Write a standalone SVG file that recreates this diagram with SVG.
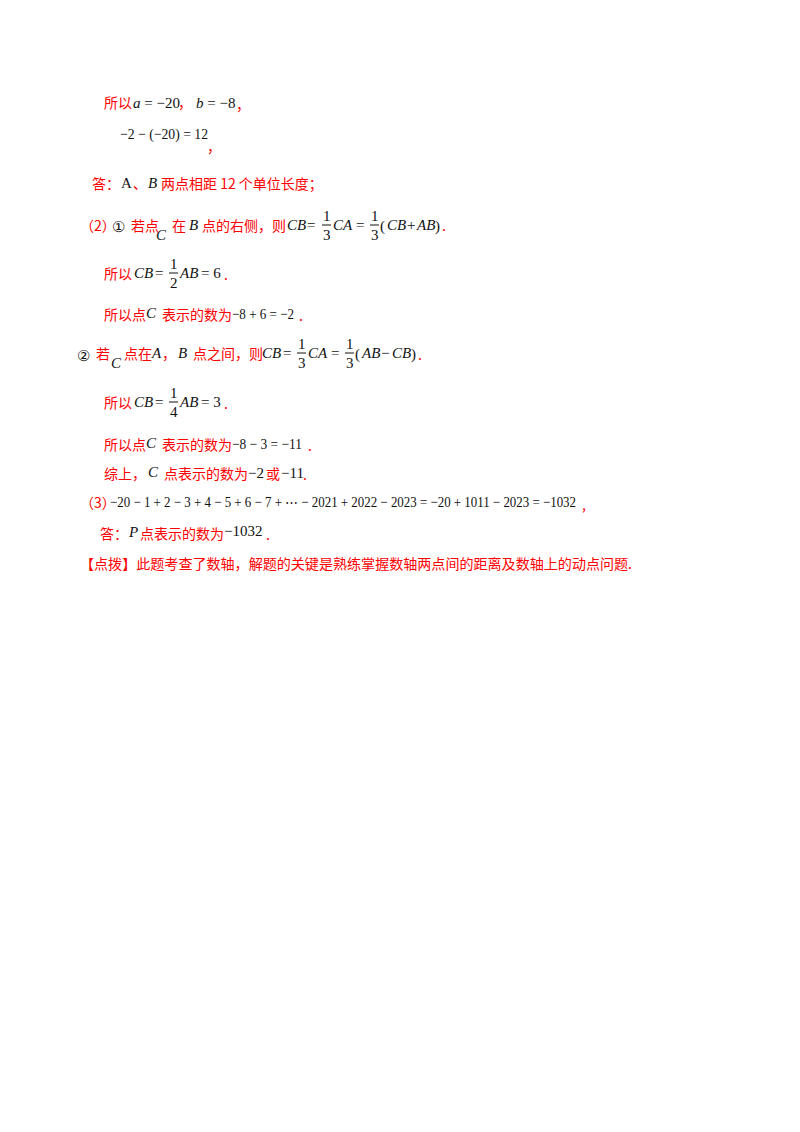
<svg xmlns="http://www.w3.org/2000/svg" width="800" height="1132" viewBox="0 0 800 1132">
<style>
.r{fill:#f00;font-family:"Noto Sans CJK SC","Noto Sans",sans-serif;font-size:14px}
.m{fill:#111;font-family:"Liberation Serif",serif;font-size:15px}
.i{font-style:italic}
</style>
<rect width="800" height="1132" fill="#fff"/>
<g id="l1"><text class="r" x="104" y="108">所以</text><text class="m" x="133" y="108"><tspan class="i">a</tspan> = −20</text><text class="r" x="178" y="108">，</text><text class="m" x="196" y="108"><tspan class="i">b</tspan> = −8</text><text class="r" x="236" y="110">，</text></g>
<g id="l2"><text class="m" x="120" y="139" textLength="88" lengthAdjust="spacingAndGlyphs">−2 − (−20) = 12</text><text class="r" x="207" y="152">，</text></g>
<g id="l3"><text class="r" x="92" y="189">答：</text><text class="m" x="121" y="188" font-size="12">A</text><text class="r" x="133" y="189">、</text><text class="m i" x="148" y="188" font-size="12">B</text><text class="r" x="161" y="189">两点相距 12 个单位长度；</text></g>
<g id="l4"><text class="r" x="80" y="231">（2）</text><text class="m" x="112" y="232" font-size="14">①</text><text class="r" x="131" y="231">若点</text><text class="m i" x="156" y="240" font-size="16">C</text><text class="r" x="172" y="231">在</text><text class="m i" x="189" y="230">B</text><text class="r" x="202" y="231">点的右侧，则</text>
<text class="m i" x="287" y="230">CB</text><text class="m" x="307" y="230">=</text><text class="m" x="323" y="221" font-size="13">1</text><line x1="322" y1="225" x2="331" y2="225" stroke="#111"/><text class="m" x="323" y="240" font-size="13">3</text><text class="m i" x="333" y="230">CA</text><text class="m" x="356" y="230">=</text><text class="m" x="371" y="221" font-size="13">1</text><line x1="370" y1="225" x2="379" y2="225" stroke="#111"/><text class="m" x="371" y="240" font-size="13">3</text><text class="m" x="380" y="231" font-size="18">(</text><text class="m i" x="387" y="230">CB</text><text class="m" x="407" y="230">+</text><text class="m i" x="417" y="230">AB</text><text class="m" x="435" y="231" font-size="18">)</text><text class="r" x="442" y="231">.</text></g>
<g id="l5"><text class="r" x="104" y="279">所以</text><text class="m i" x="134" y="278">CB</text><text class="m" x="155" y="278">=</text><text class="m" x="170" y="269" font-size="13">1</text><line x1="169" y1="273" x2="178" y2="273" stroke="#111"/><text class="m" x="170" y="288" font-size="13">2</text><text class="m i" x="180" y="278">AB</text><text class="m" x="201" y="278">= 6</text><text class="r" x="224" y="280">.</text></g>
<g id="l6"><text class="r" x="104" y="320">所以点</text><text class="m i" x="146" y="318" font-size="16">C</text><text class="r" x="162" y="320">表示的数为</text><text class="m" x="232" y="319" textLength="62" lengthAdjust="spacingAndGlyphs">−8 + 6 = −2</text><text class="r" x="299" y="321">.</text></g>
<g id="l7"><text class="m" x="77" y="361" font-size="14">②</text><text class="r" x="96" y="359">若</text><text class="m i" x="111" y="368" font-size="16">C</text><text class="r" x="124" y="359">点在</text><text class="m i" x="152" y="358">A</text><text class="r" x="162" y="359">，</text><text class="m i" x="178" y="358">B</text><text class="r" x="193" y="359">点之间，则</text>
<text class="m i" x="262" y="358">CB</text><text class="m" x="283" y="358">=</text><text class="m" x="298" y="349" font-size="13">1</text><line x1="297" y1="353" x2="306" y2="353" stroke="#111"/><text class="m" x="298" y="368" font-size="13">3</text><text class="m i" x="308" y="358">CA</text><text class="m" x="331" y="358">=</text><text class="m" x="346" y="349" font-size="13">1</text><line x1="345" y1="353" x2="354" y2="353" stroke="#111"/><text class="m" x="346" y="368" font-size="13">3</text><text class="m" x="355" y="359" font-size="18">(</text><text class="m i" x="362" y="358">AB</text><text class="m" x="381" y="358">−</text><text class="m i" x="392" y="358">CB</text><text class="m" x="411" y="359" font-size="18">)</text><text class="r" x="418" y="360">.</text></g>
<g id="l8"><text class="r" x="104" y="408">所以</text><text class="m i" x="134" y="407">CB</text><text class="m" x="155" y="407">=</text><text class="m" x="170" y="398" font-size="13">1</text><line x1="169" y1="402" x2="178" y2="402" stroke="#111"/><text class="m" x="170" y="417" font-size="13">4</text><text class="m i" x="180" y="407">AB</text><text class="m" x="201" y="407">= 3</text><text class="r" x="224" y="409">.</text></g>
<g id="l9"><text class="r" x="104" y="450">所以点</text><text class="m i" x="146" y="448" font-size="16">C</text><text class="r" x="162" y="450">表示的数为</text><text class="m" x="232" y="449" textLength="70" lengthAdjust="spacingAndGlyphs">−8 − 3 = −11</text><text class="r" x="308" y="451">.</text></g>
<g id="l10"><text class="r" x="104" y="479">综上，</text><text class="m i" x="148" y="477" font-size="16">C</text><text class="r" x="164" y="479">点表示的数为</text><text class="m" x="248" y="478">−2</text><text class="r" x="266" y="479">或</text><text class="m" x="281" y="478">−11</text><text class="r" x="303" y="480">.</text></g>
<g id="l11"><text class="r" x="80" y="508">（3）</text><text class="m" x="110" y="507" textLength="466" lengthAdjust="spacingAndGlyphs">−20 − 1 + 2 − 3 + 4 − 5 + 6 − 7 + ⋯ − 2021 + 2022 − 2023 = −20 + 1011 − 2023 = −1032</text><text class="r" x="582" y="510">,</text></g>
<g id="l12"><text class="r" x="100" y="539">答：</text><text class="m i" x="129" y="537">P</text><text class="r" x="140" y="539">点表示的数为</text><text class="m" x="224" y="536">−1032</text><text class="r" x="266" y="540">.</text></g>
<g id="l13"><text class="r" x="80" y="569" textLength="552" lengthAdjust="spacingAndGlyphs">【点拨】此题考查了数轴，解题的关键是熟练掌握数轴两点间的距离及数轴上的动点问题.</text></g>
</svg>
